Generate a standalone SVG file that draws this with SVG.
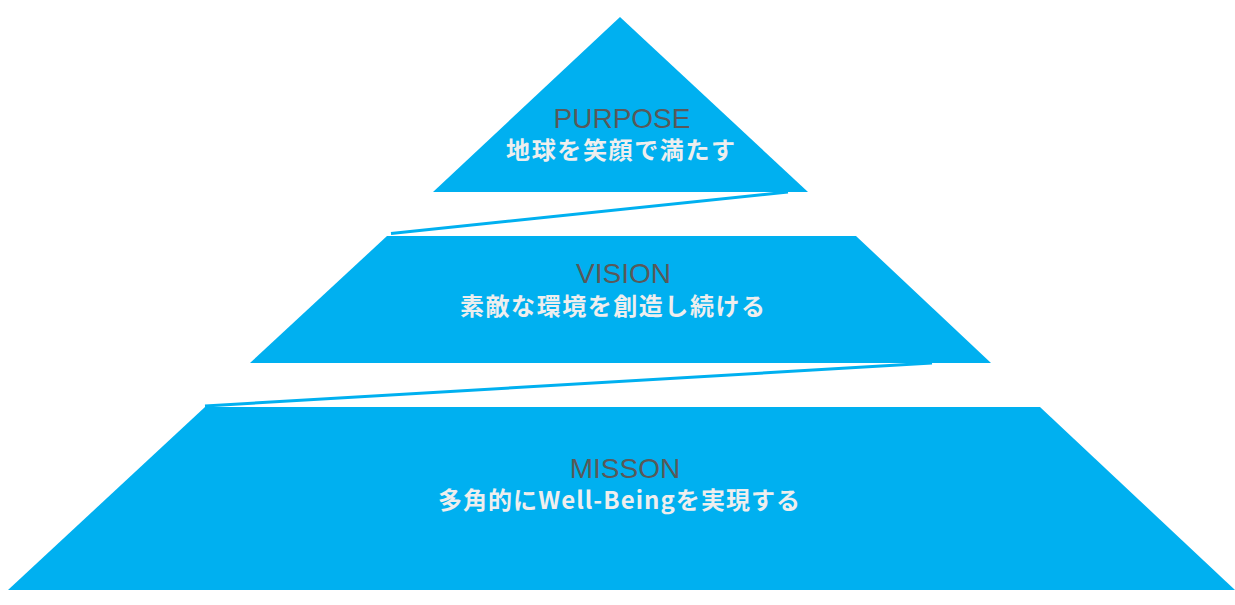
<svg xmlns="http://www.w3.org/2000/svg" width="1235" height="605" viewBox="0 0 1235 605">
<style>
.shape{fill:#00B0F0;stroke:none}
.conn{stroke:#00B0F0;stroke-width:3;fill:none}
.title{font-family:"Liberation Sans",Arial,sans-serif;font-size:28px;fill:#595959;text-anchor:middle}
.sub{font-family:"Noto Sans CJK JP","Noto Sans",sans-serif;font-size:24px;font-weight:bold;fill:#EEEEEE;text-anchor:middle}
</style>
<rect width="1235" height="605" fill="#FFFFFF"/>
<g id="connectors">
<line class="conn" x1="788" y1="192" x2="391" y2="233.5"/>
<line class="conn" x1="932" y1="363" x2="205" y2="406"/>
</g>
<g id="purpose">
<polygon class="shape" points="620,17 808,192 433,192"/>
<text class="title" x="622" y="128">PURPOSE</text>
<text class="sub" x="620.5" y="159" textLength="229" lengthAdjust="spacing">地球を笑顔で満たす</text>
</g>
<g id="vision">
<polygon class="shape" points="387,236 856,236 991,363 250,363"/>
<text class="title" x="623.5" y="283">VISION</text>
<text class="sub" x="612.5" y="315" textLength="305" lengthAdjust="spacing">素敵な環境を創造し続ける</text>
</g>
<g id="mission">
<polygon class="shape" points="205,407 1040,407 1235,590 8,590"/>
<text class="title" x="625" y="478">MISSON</text>
<text class="sub" x="619" y="509" textLength="362" lengthAdjust="spacing">多角的にWell-Beingを実現する</text>
</g>
</svg>
